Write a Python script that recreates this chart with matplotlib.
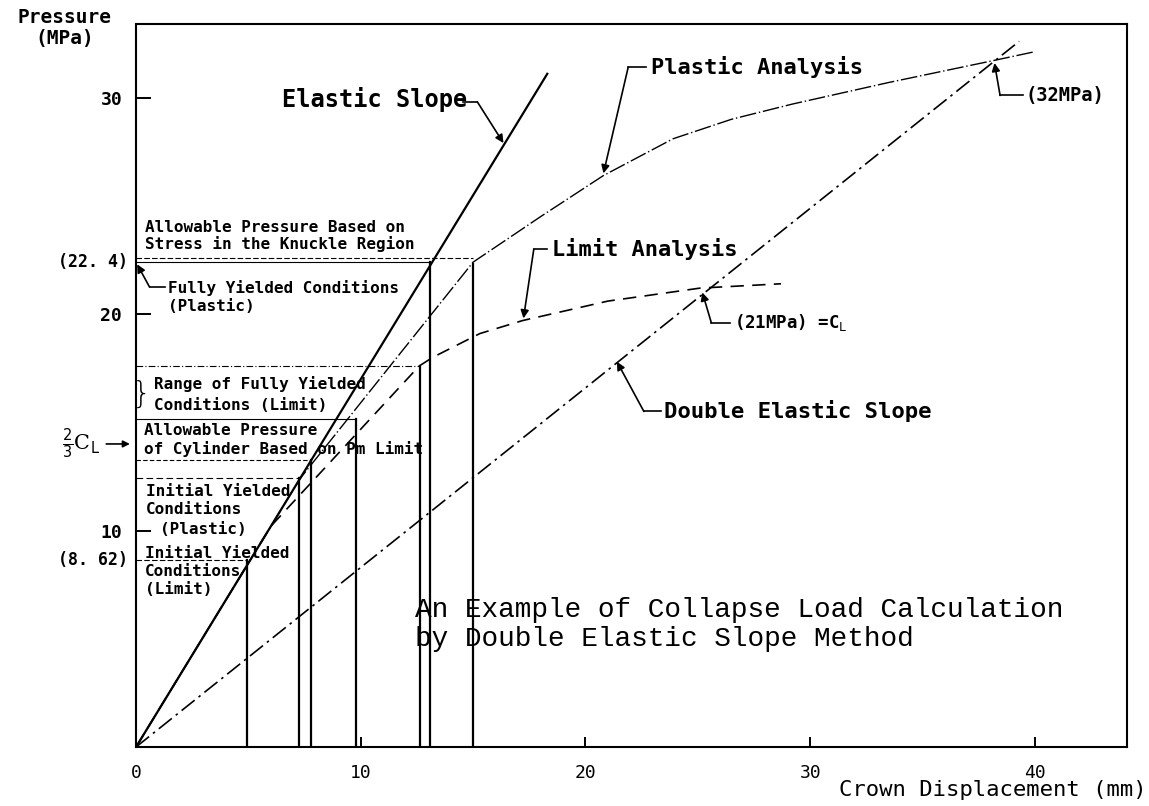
import matplotlib.pyplot as plt

# curves: crown displacement (mm) vs pressure (MPa)
elastic_x = [0, 18.3]
elastic_y = [0, 31.1]
plastic_x = [0, 7.3, 15.0, 18.0, 20.8, 23.9, 26.5, 29.2, 33.5, 38.1, 39.9]
plastic_y = [0, 12.4, 22.4, 24.5, 26.4, 28.1, 29.0, 29.7, 30.7, 31.7, 32.1]
limit_x = [0, 6.0, 12.6, 13.2, 15.3, 17.2, 21.0, 25.1, 28.7]
limit_y = [0, 10.2, 17.6, 18.0, 19.1, 19.7, 20.6, 21.2, 21.4]
double_x = [0, 39.3]
double_y = [0, 32.6]

# vertical markers from the x axis up to the curves
mark_x = [4.95, 7.27, 7.78, 9.78, 12.63, 13.08, 15.0]
mark_top = [8.62, 12.45, 13.25, 15.15, 17.6, 22.4, 22.3]

# horizontal levels drawn from the y axis
level_y = [22.6, 22.4, 17.6, 15.15, 13.25, 12.45, 8.62]
level_end = [15.0, 13.08, 12.63, 9.78, 7.78, 7.27, 4.95]
level_ls = [(0, (5, 2)), '-', (0, (6, 2, 1, 2)), '-', (0, (4, 2)), (0, (6, 3)), (0, (5, 2))]

x_ticks = [0, 10, 20, 30, 40]
y_ticks = [10, 20, 30]

C_L = 21.0  # collapse load, MPa

mono = 'DejaVu Sans Mono'
typed = 'Liberation Mono'

fig = plt.figure(figsize=(11.49, 8.06), dpi=100)
ax = fig.add_axes([0.1184, 0.0732, 0.8625, 0.897])
ax.set_xlim(0, 44.1)
ax.set_ylim(0, 33.4)

for s in ax.spines.values():
    s.set_linewidth(1.5)

# main curves
ax.plot(elastic_x, elastic_y, color='black', lw=1.6)
ax.plot(plastic_x, plastic_y, color='black', lw=1.0, ls=(0, (12, 2, 1, 2)))
ax.plot(limit_x, limit_y, color='black', lw=1.2, ls=(0, (8, 5)))
ax.plot(double_x, double_y, color='black', lw=1.2, ls=(0, (10, 3, 1.5, 3)))

# markers
for x, top in zip(mark_x, mark_top):
    ax.plot([x, x], [0, top], color='black', lw=1.6)
for y, xe, ls in zip(level_y, level_end, level_ls):
    ax.plot([0, xe], [y, y], color='black', lw=0.8, ls=ls)

# ticks
ax.set_xticks(x_ticks)
ax.set_xticklabels([str(t) for t in x_ticks], fontsize=13, family=mono)
ax.set_yticks(y_ticks)
ax.set_yticklabels([str(t) for t in y_ticks], fontsize=13, family=mono, fontweight='bold')
ax.tick_params(axis='y', direction='in', length=11, width=1.4, pad=10)
ax.tick_params(axis='x', direction='in', length=7, width=1.4, pad=12)

# extra y labels
ax.text(-0.36, 22.4, '(22. 4)', ha='right', va='center', fontsize=12, family=mono,
        fontweight='bold', clip_on=False)
ax.text(-0.36, 8.62, '(8. 62)', ha='right', va='center', fontsize=12, family=mono,
        fontweight='bold', clip_on=False)
ax.text(-1.6, C_L * 2 / 3, r'$\frac{2}{3}$C$_\mathrm{L}$', ha='right', va='center',
        fontsize=15, family='DejaVu Serif', clip_on=False)
ax.annotate('', xy=(-0.15, C_L * 2 / 3), xytext=(-1.45, C_L * 2 / 3),
            arrowprops=dict(arrowstyle='-|>', color='black', lw=1.2, mutation_scale=10),
            annotation_clip=False)

# axis titles
fig.text(0.056, 0.965, 'Pressure\n(MPa)', ha='center', va='center', fontsize=14,
         family=mono, fontweight='bold', linespacing=1.1)
fig.text(0.998, 0.020, 'Crown Displacement (mm)', ha='right', va='center', fontsize=16,
         family=mono)


def leader(pts, tip):
    xs = [p[0] for p in pts]
    ys = [p[1] for p in pts]
    ax.plot(xs, ys, color='black', lw=1.2)
    ax.annotate('', xy=tip, xytext=pts[-1],
                arrowprops=dict(arrowstyle='-|>', color='black', lw=1.2,
                                mutation_scale=12, shrinkA=0, shrinkB=0))


# curve labels
ax.text(6.5, 29.9, 'Elastic Slope', fontsize=17, family=mono, fontweight='bold', va='center')
leader([(14.57, 29.8), (15.19, 29.8)], (16.35, 27.9))

ax.text(22.9, 31.4, 'Plastic Analysis', fontsize=15.8, family=mono, fontweight='bold',
        va='center')
leader([(22.7, 31.4), (21.9, 31.4)], (20.8, 26.5))

ax.text(18.5, 23.0, 'Limit Analysis', fontsize=15.8, family=mono, fontweight='bold',
        va='center')
leader([(18.3, 23.0), (17.7, 23.0)], (17.24, 19.8))

ax.text(26.6, 19.6, r'(21MPa) =C$_\mathrm{L}$', fontsize=12.5, family=mono,
        fontweight='bold', va='center')
leader([(26.45, 19.6), (25.6, 19.6)], (25.2, 21.0))

ax.text(39.6, 30.1, '(32MPa)', fontsize=13.5, family=mono, fontweight='bold', va='center')
leader([(39.45, 30.1), (38.45, 30.1)], (38.2, 31.6))

ax.text(23.5, 15.5, 'Double Elastic Slope', fontsize=16, family=mono, fontweight='bold',
        va='center')
leader([(23.35, 15.5), (22.6, 15.5)], (21.4, 17.8))

# condition labels
ax.text(0.4, 23.6, 'Allowable Pressure Based on\nStress in the Knuckle Region',
        fontsize=11.5, family=mono, fontweight='bold', va='center', linespacing=1.1)
ax.text(1.43, 20.8, 'Fully Yielded Conditions\n(Plastic)', fontsize=11.5, family=mono,
        fontweight='bold', va='center', linespacing=1.25)
leader([(1.3, 21.25), (0.6, 21.25)], (0.05, 22.3))

ax.text(0.25, 16.3, '}', fontsize=22, family='DejaVu Sans', va='center', ha='center',
        fontweight='light')
ax.text(0.8, 16.3, 'Range of Fully Yielded\nConditions (Limit)', fontsize=11.5,
        family=mono, fontweight='bold', va='center', linespacing=1.5)
ax.text(0.36, 14.17, 'Allowable Pressure\nof Cylinder Based on Pm Limit', fontsize=11.5,
        family=mono, fontweight='bold', va='center', linespacing=1.25)
ax.text(0.45, 11.41, 'Initial Yielded\nConditions', fontsize=11.5, family=mono,
        fontweight='bold', va='center', linespacing=1.25)
ax.text(1.07, 10.07, '(Plastic)', fontsize=11.5, family=mono, fontweight='bold',
        va='center')
ax.text(0.4, 8.1, 'Initial Yielded\nConditions\n(Limit)', fontsize=11.5, family=mono,
        fontweight='bold', va='center', linespacing=1.25)

# title block
ax.text(12.43, 5.67, 'An Example of Collapse Load Calculation\nby Double Elastic Slope Method',
        fontsize=20, family=typed, va='center', linespacing=1.15)

fig.savefig('out.png', dpi=100)
